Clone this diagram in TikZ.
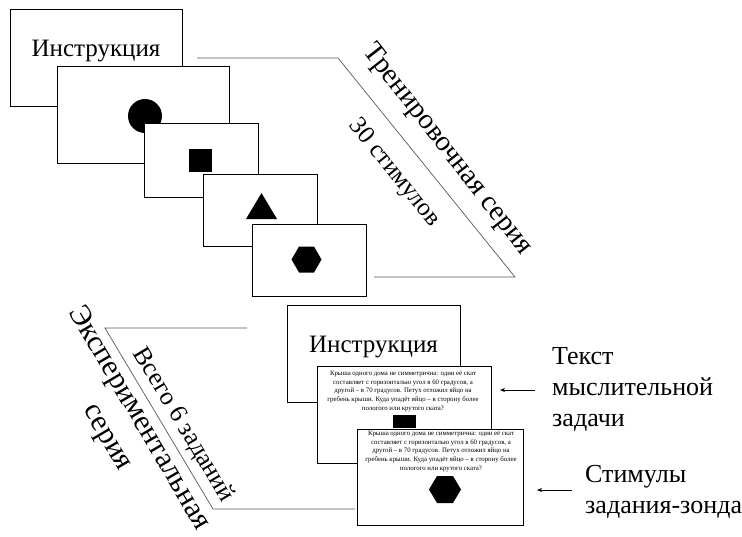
\documentclass[tikz,border=0pt]{standalone}
\usepackage{fontspec}
\setmainfont{Liberation Serif}
\usetikzlibrary{arrows.meta}
\begin{document}
\begin{tikzpicture}[x=1pt,y=-1pt,
  card/.style={draw=black, line width=1pt, fill=white, anchor=north west, inner sep=0pt, outer sep=0pt},
  bracket/.style={draw=black!65, line width=0.7pt},
  pointer/.style={draw=black, line width=0.7pt, -{Stealth[length=5pt,width=4pt]}},
  big/.style={font=\fontsize{25}{30}\selectfont, inner sep=0pt},
  slanted/.style={inner sep=0pt, align=center},
  label/.style={font=\fontsize{26}{31}\selectfont, align=left, anchor=north west, inner sep=0pt},
  tiny/.style={font=\fontsize{6.8}{8.6}\selectfont, align=center, anchor=north, inner sep=0pt},
  shapefill/.style={fill=black, draw=none}]
\useasboundingbox (0,0) rectangle (742,536);

% ---------- training series ----------
\node[card, minimum width=172pt, minimum height=97pt] (c1) at (10,9) {};
\node[big] (t1) at (96,51) {Инструкция};
\node[card, minimum width=172pt, minimum height=97pt] (c2) at (57,66) {};
\fill[shapefill] (145,116) circle (17);
\node[card, minimum width=114pt, minimum height=74pt] (c3) at (144,123) {};
\fill[shapefill] (188.5,149) rectangle (211.5,172);
\node[card, minimum width=114pt, minimum height=72pt] (c4) at (203,174) {};
\fill[shapefill] (246,219) -- (277,219) -- (261.5,193) -- cycle;
\node[card, minimum width=114pt, minimum height=72pt] (c5) at (252,224) {};
\fill[shapefill] (291.5,259.5) -- (299,246.5) -- (314,246.5) -- (321.5,259.5) -- (314,272.5) -- (299,272.5) -- cycle;

\coordinate (tA) at (197,58);
\coordinate (tB) at (338,58);
\coordinate (tC) at (515,277);
\coordinate (tD) at (374,277);
\draw[bracket] (tA) -- (tB) -- (tC) -- (tD);
\node[slanted, font=\fontsize{28.5}{33}\selectfont, rotate=-52] (ts) at (447,150) {Тренировочная серия};
\node[slanted, font=\fontsize{25}{30}\selectfont, rotate=-51] (tn) at (394,173) {30 стимулов};

% ---------- experimental series ----------
\node[card, minimum width=173pt, minimum height=97pt] (e1) at (287,305) {};
\node[big] (t2) at (373.5,347) {Инструкция};
\node[card, minimum width=174pt, minimum height=97pt] (e2) at (317,366) {};
\node[tiny] (p1) at (403,371) {Крыша одного дома не симметрична: один её скат\\составляет с горизонталью угол в 60 градусов, а\\другой – в 70 градусов. Петух отложил яйцо на\\гребень крыши. Куда упадёт яйцо – в сторону более\\пологого или крутого ската?};
\fill[shapefill] (393,415) rectangle (416,428);
\node[card, minimum width=166pt, minimum height=96pt] (e3) at (357,429) {};
\node[tiny] (p2) at (441,431) {Крыша одного дома не симметрична: один её скат\\составляет с горизонталью угол в 60 градусов, а\\другой – в 70 градусов. Петух отложил яйцо на\\гребень крыши. Куда упадёт яйцо – в сторону более\\пологого или крутого ската?};
\fill[shapefill] (429,489.5) -- (437,476) -- (453,476) -- (461,489.5) -- (453,503) -- (437,503) -- cycle;

\coordinate (bA) at (247,328);
\coordinate (bB) at (105,328);
\coordinate (bC) at (213,509);
\coordinate (bD) at (355,509);
\draw[bracket] (bA) -- (bB) -- (bC) -- (bD);
\node[slanted, font=\fontsize{25.5}{30}\selectfont, rotate=-59] (bs) at (183,425) {Всего 6 заданий};
\node[slanted, font=\fontsize{30}{37}\selectfont, rotate=-59.5] (es) at (123,428) {Экспериментальная\\серия};

% ---------- right labels ----------
\node[label] (l1) at (552,347) {Текст\\мыслительной\\задачи};
\node[label] (l2) at (585,465) {Стимулы\\задания-зонда};
\coordinate (a1s) at (535,390);
\coordinate (a1e) at (500,390);
\coordinate (a2s) at (572,490);
\coordinate (a2e) at (537,490);
\draw[pointer] (a1s) -- (a1e);
\draw[pointer] (a2s) -- (a2e);
\end{tikzpicture}
\end{document}
